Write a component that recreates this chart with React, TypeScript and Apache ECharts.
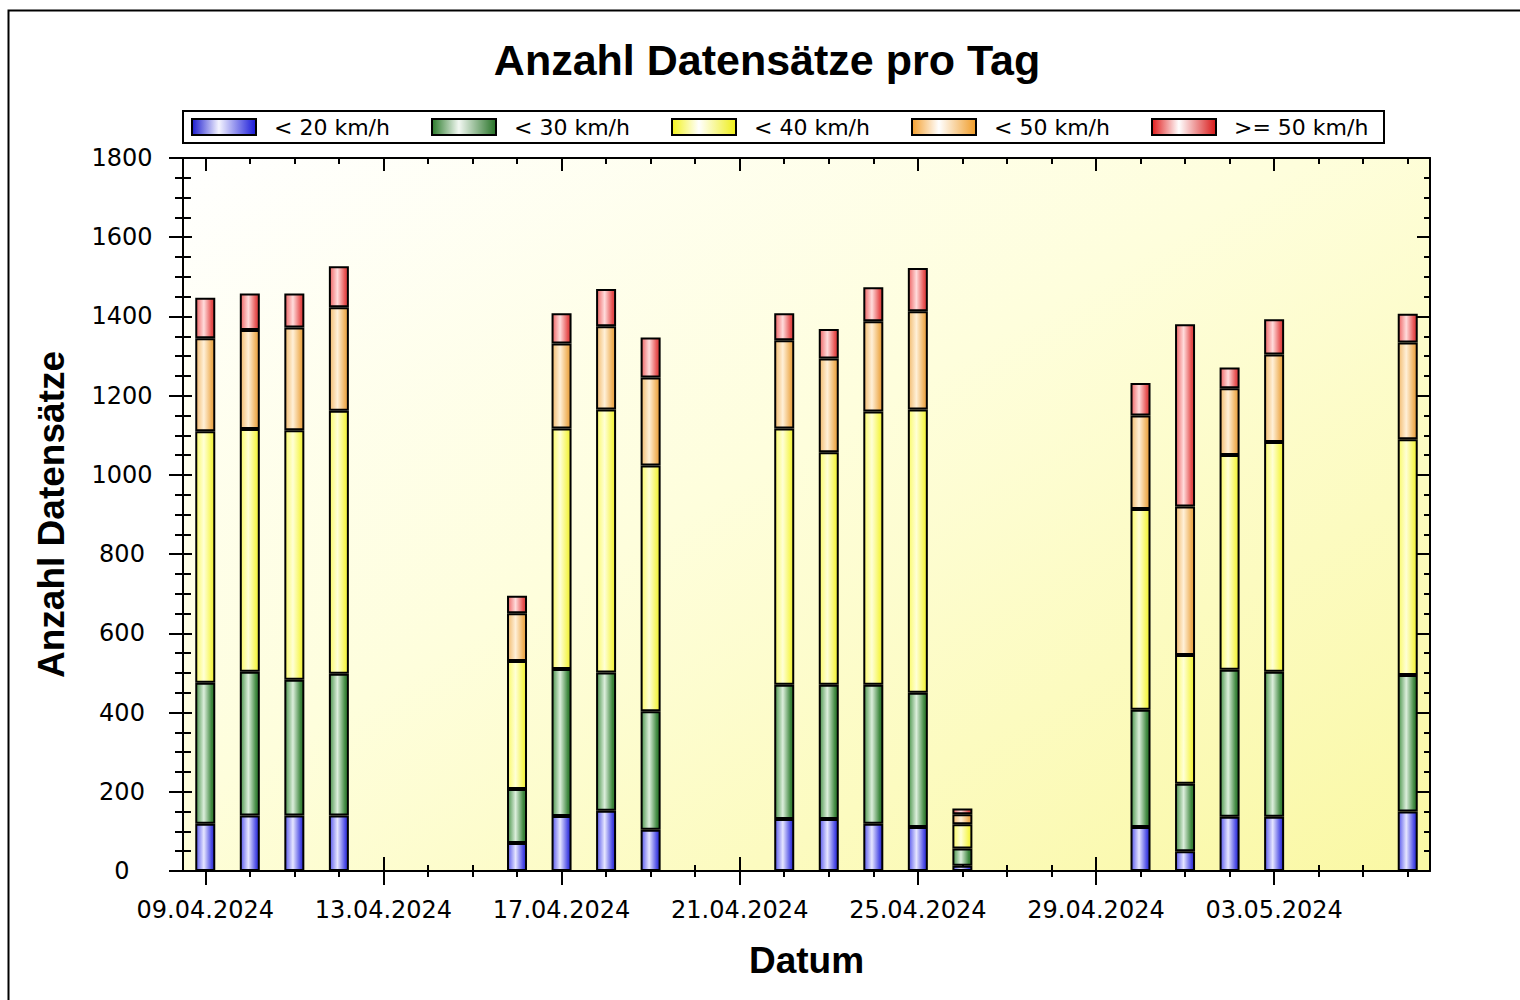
import React, { useEffect, useRef } from 'react';
import * as echarts from 'echarts';

const dates = [
  '09.04.2024', '10.04.2024', '11.04.2024', '12.04.2024', '13.04.2024', '14.04.2024', '15.04.2024',
  '16.04.2024', '17.04.2024', '18.04.2024', '19.04.2024', '20.04.2024', '21.04.2024', '22.04.2024',
  '23.04.2024', '24.04.2024', '25.04.2024', '26.04.2024', '27.04.2024', '28.04.2024', '29.04.2024',
  '30.04.2024', '01.05.2024', '02.05.2024', '03.05.2024', '04.05.2024', '05.05.2024', '06.05.2024',
];

const seriesNames = ['< 20 km/h', '< 30 km/h', '< 40 km/h', '< 50 km/h', '>= 50 km/h'];

const under20 = [119, 140, 140, 140, null, null, null, 71, 139, 152, 104, null, null, 131, 131, 119, 111, 13, null, null, null, 111, 50, 137, 137, null, null, 150];
const under30 = [356, 363, 343, 358, null, null, null, 136, 371, 349, 299, null, null, 339, 339, 351, 339, 44, null, null, null, 296, 170, 371, 366, null, null, 345];
const under40 = [635, 613, 630, 664, null, null, null, 323, 607, 664, 621, null, null, 647, 587, 690, 715, 61, null, null, null, 507, 325, 542, 580, null, null, 595];
const under50 = [235, 250, 259, 261, null, null, null, 121, 215, 210, 222, null, null, 223, 237, 228, 248, 25, null, null, null, 236, 375, 169, 221, null, null, 244];
const over50 = [102, 92, 86, 104, null, null, null, 44, 76, 94, 101, null, null, 68, 74, 86, 109, 15, null, null, null, 82, 460, 52, 89, null, null, 73];

const yMin = 0;
const yMax = 1800;
const yStep = 200;

const barGrad = (a: string, mid: string, b: string, c: string) => ({
  type: 'linear', x: 0, y: 0, x2: 1, y2: 0,
  colorStops: [
    { offset: 0, color: a },
    { offset: 0.42, color: mid },
    { offset: 0.85, color: b },
    { offset: 1, color: c },
  ],
});

const hGrad = (a: string, mid: string, b: string) => ({
  type: 'linear', x: 0, y: 0, x2: 1, y2: 0,
  colorStops: [
    { offset: 0, color: a },
    { offset: 0.42, color: mid },
    { offset: 1, color: b },
  ],
});

const barFills = [
  barGrad('#5a5aec', '#e6e6ff', '#4a4ae4', '#2626c8'),
  barGrad('#4f974f', '#dceedc', '#3f883f', '#2c742c'),
  barGrad('#fafa6a', '#ffffd6', '#f6f652', '#eaea3a'),
  barGrad('#f2bc70', '#fff0d8', '#efb058', '#e49c40'),
  barGrad('#ee6666', '#ffdcdc', '#e65050', '#d43a3a'),
];

const legendFills = [
  hGrad('#1c1cd0', '#f4f4ff', '#1818d8'),
  hGrad('#2a7a2a', '#f2f8f2', '#267226'),
  hGrad('#f2f21c', '#ffffff', '#eeee18'),
  hGrad('#f4a030', '#ffffff', '#f09c28'),
  hGrad('#e01c1c', '#ffffff', '#d81818'),
];

const values = [under20, under30, under40, under50, over50];

const labelFont = 'DejaVu Sans';
const boldFont = 'Liberation Sans';

export default function App() {
  const ref = useRef<HTMLDivElement>(null);

  useEffect(() => {
    document.body.style.margin = '0';
    if (!ref.current) return;
    const chart = echarts.init(ref.current, null, { renderer: 'svg' });

    const black = '#000';
    const baseCat = (extra: any) => ({
      type: 'category',
      data: dates,
      boundaryGap: true,
      axisLabel: { show: false },
      axisLine: { show: false },
      splitLine: { show: false },
      ...extra,
    });
    const baseVal = (extra: any) => ({
      type: 'value',
      min: yMin,
      max: yMax,
      interval: yStep,
      axisLabel: { show: false },
      axisLine: { show: false },
      splitLine: { show: false },
      ...extra,
    });

    const option: any = {
      animation: false,
      backgroundColor: '#ffffff',
      title: {
        text: 'Anzahl Datensätze pro Tag',
        left: 762,
        top: 33,
        textAlign: 'center',
        textStyle: { fontFamily: boldFont, fontWeight: 'bold', fontSize: 43, color: black },
      },
      legend: {
        left: 183,
        top: 111,
        padding: [5, 8, 5, 8],
        borderColor: black,
        borderWidth: 2,
        backgroundColor: '#ffffff',
        itemWidth: 64,
        itemHeight: 16,
        itemGap: 15,
        icon: 'rect',
        selectedMode: false,
        textStyle: {
          fontFamily: labelFont,
          fontSize: 22,
          color: black,
          width: 142,
          overflow: 'none',
          padding: [0, 0, 0, 13],
          lineHeight: 22,
        },
        data: seriesNames.map((n, i) => ({
          name: n,
          itemStyle: { color: legendFills[i], borderColor: black, borderWidth: 2 },
        })),
      },
      grid: {
        left: 183,
        right: 90,
        top: 158,
        bottom: 129,
        show: true,
        borderWidth: 0,
        outerBoundsMode: 'none',
        backgroundColor: {
          type: 'linear', x: 0, y: 0, x2: 1, y2: 1,
          colorStops: [
            { offset: 0, color: '#ffffff' },
            { offset: 0.45, color: '#fefedc' },
            { offset: 1, color: '#faf8a4' },
          ],
        },
      },
      xAxis: [
        baseCat({
          position: 'bottom',
          name: 'Datum',
          nameLocation: 'middle',
          nameGap: 71,
          nameTextStyle: { fontFamily: boldFont, fontWeight: 'bold', fontSize: 37, color: black },
          axisLine: { show: true, lineStyle: { color: black, width: 2 } },
          axisTick: { show: true, alignWithLabel: true, interval: 3, length: 14, inside: false, lineStyle: { color: black, width: 2 } },
          axisLabel: { show: true, interval: 3, margin: 27, fontFamily: labelFont, fontSize: 24, color: black, hideOverlap: false },
        }),
        baseCat({
          position: 'bottom',
          axisTick: { show: true, alignWithLabel: true, interval: 3, length: 14, inside: true, lineStyle: { color: black, width: 2 } },
        }),
        baseCat({
          position: 'bottom',
          axisTick: { show: true, alignWithLabel: true, interval: 0, length: 6, inside: false, lineStyle: { color: black, width: 2 } },
        }),
        baseCat({
          position: 'bottom',
          axisTick: { show: true, alignWithLabel: true, interval: 0, length: 6, inside: true, lineStyle: { color: black, width: 2 } },
        }),
        baseCat({
          position: 'top',
          axisLine: { show: true, lineStyle: { color: black, width: 2 } },
          axisTick: { show: true, alignWithLabel: true, interval: 3, length: 13, inside: true, lineStyle: { color: black, width: 2 } },
        }),
        baseCat({
          position: 'top',
          axisTick: { show: true, alignWithLabel: true, interval: 0, length: 6, inside: true, lineStyle: { color: black, width: 2 } },
        }),
      ],
      yAxis: [
        baseVal({
          position: 'left',
          name: 'Anzahl Datensätze',
          nameLocation: 'middle',
          nameGap: 113,
          nameTextStyle: { fontFamily: boldFont, fontWeight: 'bold', fontSize: 37, color: black },
          axisLine: { show: true, lineStyle: { color: black, width: 2 } },
          axisTick: { show: true, length: 14, inside: false, lineStyle: { color: black, width: 2 } },
          minorTick: { show: true, splitNumber: 4, length: 8, lineStyle: { color: black, width: 2 } },
          axisLabel: {
            show: true, align: 'center', margin: 61, fontFamily: labelFont, fontSize: 24, color: black,
            formatter: (v: number) => String(v),
          },
        }),
        baseVal({
          position: 'left',
          axisTick: { show: true, length: 9, inside: true, lineStyle: { color: black, width: 2 } },
          minorTick: { show: true, splitNumber: 4, length: 8, lineStyle: { color: black, width: 2 } },
        }),
        baseVal({
          position: 'right',
          axisLine: { show: true, lineStyle: { color: black, width: 2 } },
          axisTick: { show: true, length: 13, inside: true, lineStyle: { color: black, width: 2 } },
          minorTick: { show: true, splitNumber: 4, length: 6, lineStyle: { color: black, width: 2 } },
        }),
      ],
      series: seriesNames.map((n, i) => ({
        name: n,
        type: 'bar',
        stack: 'total',
        xAxisIndex: 0,
        yAxisIndex: 0,
        barWidth: 20,
        data: values[i],
        itemStyle: { color: barFills[i], borderColor: black, borderWidth: 2 },
        emphasis: { disabled: true },
      })),
      graphic: [
        {
          type: 'rect',
          silent: true,
          z: 100,
          shape: { x: 8.5, y: 10.5, width: 1600, height: 1200 },
          style: { fill: 'none', stroke: black, lineWidth: 2 },
        },
      ],
    };

    chart.setOption(option);
    return () => chart.dispose();
  }, []);

  return <div ref={ref} style={{ width: 1520, height: 1000 }} />;
}
